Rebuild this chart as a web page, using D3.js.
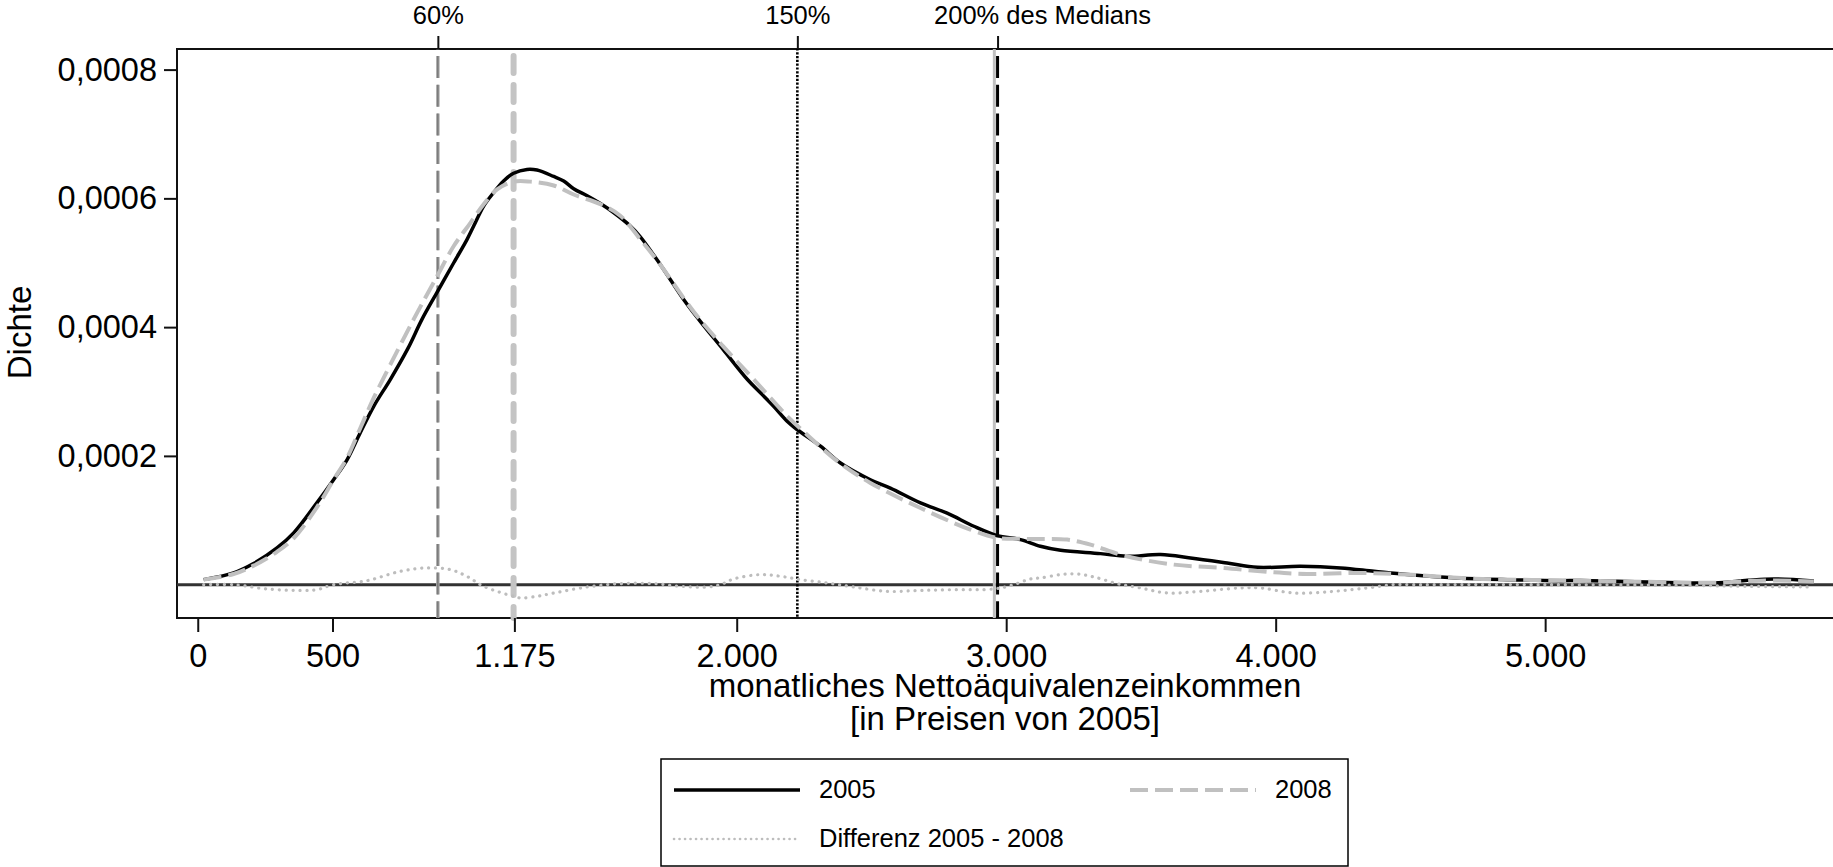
<!DOCTYPE html>
<html>
<head>
<meta charset="utf-8">
<script src="https://cdn.jsdelivr.net/npm/d3@7/dist/d3.min.js"></script>
<style>
  body { margin: 0; background: #fff; }
  svg text { font-family: "Liberation Sans", Arial, Helvetica, sans-serif; fill: #000; }
</style>
</head>
<body>
<div id="densitychart"></div>
<script>
// kernel density 2005 (income, density)
var inc2005 = [22, 133, 207, 294, 356, 442, 504, 554, 603, 653, 715, 780, 832, 888, 950, 999, 1024, 1061, 1098, 1135,
  1172, 1222, 1259, 1321, 1358, 1395, 1445, 1494, 1543, 1605, 1643, 1720, 1803, 1859, 1950, 2039, 2088, 2137, 2187, 2224,
  2311, 2385, 2496, 2570, 2682, 2781, 2880, 2967, 3053, 3127, 3202, 3350, 3449, 3573, 3684, 3820, 3932, 4092, 4241, 4365,
  4488, 4674, 4860, 5057, 5131, 5379, 5627, 5751, 5849, 5997];
var dens2005 = [0.0000078, 0.0000182, 0.0000327, 0.000057, 0.0000804, 0.000127, 0.000163, 0.000194, 0.000236, 0.000277,
  0.000319, 0.000367, 0.000412, 0.000454, 0.0005, 0.000536, 0.000557, 0.000588, 0.000609, 0.000627,
  0.000639, 0.000645, 0.000644, 0.000634, 0.000627, 0.000615, 0.000604, 0.000592, 0.000578, 0.000557,
  0.00054, 0.000495, 0.000443, 0.000412, 0.000365, 0.000319, 0.000298, 0.000277, 0.000254, 0.000241,
  0.000215, 0.000189, 0.000163, 0.00015, 0.000127, 0.000111, 0.0000907, 0.0000762, 0.00007, 0.0000596,
  0.0000533, 0.0000482, 0.000044, 0.0000467, 0.0000415, 0.0000337, 0.0000269, 0.0000285, 0.000026, 0.0000207,
  0.0000156, 0.0000104, 0.0000078, 0.0000062, 0.0000065, 0.0000042, 0.0000026, 0.0000067, 0.0000088, 0.0000057];

// kernel density 2008
var inc2008 = [22, 133, 207, 294, 356, 442, 504, 554, 603, 653, 715, 801, 888, 950, 1012, 1061, 1111, 1172, 1234, 1321,
  1395, 1494, 1568, 1643, 1720, 1803, 1859, 1950, 2063, 2187, 2261, 2373, 2496, 2682, 2867, 2967, 3053, 3127, 3226, 3313,
  3437, 3623, 3808, 3993, 4117, 4303, 4488, 4736, 5057, 5379, 5627, 5751, 5849, 5997];
var dens2008 = [0.0000078, 0.0000165, 0.0000295, 0.000051, 0.000072, 0.00012, 0.000163, 0.000197, 0.000243, 0.00029,
  0.000342, 0.000412, 0.000479, 0.000526, 0.000562, 0.000591, 0.000614, 0.000626, 0.000626, 0.00062,
  0.000606, 0.000591, 0.000573, 0.000536, 0.000495, 0.000445, 0.000414, 0.00037, 0.000319, 0.000262,
  0.000233, 0.000192, 0.000158, 0.000119, 0.0000855, 0.0000726, 0.0000711, 0.000071, 0.00007, 0.0000622,
  0.0000451, 0.0000311, 0.000026, 0.0000191, 0.0000166, 0.0000182, 0.0000156, 0.0000093, 0.0000067, 0.0000045,
  0.000003, 0.0000055, 0.0000065, 0.000005];

// difference of the two densities
var incDiff = [22, 133, 256, 380, 442, 504, 628, 752, 851, 937, 999, 1061, 1172, 1200, 1260, 1321, 1445, 1568, 1692, 1791,
  1890, 1940, 1989, 2088, 2162, 2236, 2336, 2434, 2558, 2682, 2806, 2954, 3028, 3090, 3127, 3202, 3264, 3325, 3412, 3498,
  3598, 3721, 3870, 3944, 4068, 4216, 4340, 4439, 4512, 5000, 5500, 5748, 5997];
var densDiff = [0, 0, -0.0000067, -0.0000089, -0.0000078, 0, 0.0000062, 0.0000207, 0.000026, 0.0000233,
  0.0000129, -0.0000026, -0.0000182, -0.0000207, -0.000018, -0.000013, -0.0000036, 0.0000016, 0.0000016, -0.0000026,
  -0.0000036, 0, 0.0000089, 0.0000156, 0.000013, 0.0000078, 0.0000026, -0.0000036, -0.0000104, -0.0000089,
  -0.0000078, -0.0000067, 0, 0.0000089, 0.0000104, 0.0000156, 0.0000166, 0.000012, 0.0000016, -0.0000051,
  -0.000013, -0.0000104, -0.0000051, -0.0000051, -0.000013, -0.0000104, -0.0000051, 0, 0, 0,
  -0.000001, -0.0000026, -0.0000036];

// reference values (median based)
var line60 = 891, lineMode = 1172, line150 = 2225, line200 = 2968, line200b = 2956;
var topTickValues = [891, 2225, 2968];
var topTickLabels = ["60%", "150%", "200% des Medians"];
var xTickValues = [0, 500, 1175, 2000, 3000, 4000, 5000];
var yTickValues = [0.0002, 0.0004, 0.0006, 0.0008];
var legendLabels = ["2005", "2008", "Differenz 2005 - 2008"];

// set the dimensions and margins of the graph
var margin = {top: 49, left: 177},
    width = 1660,
    height = 569;

var svg = d3.select("#densitychart")
  .append("svg")
    .attr("width", 1833)
    .attr("height", 867)
  .append("g")
    .attr("transform", "translate(" + margin.left + "," + margin.top + ")");

var de = d3.formatLocale({decimal: ",", thousands: ".", grouping: [3], currency: ["", " €"]});

var x = d3.scaleLinear().domain([-77, 6083]).range([0, width]);
var y = d3.scaleLinear().domain([-0.0000518, 0.000832]).range([height, 0]);

// frame (right side runs off the picture)
svg.append("path")
  .attr("d", "M" + (width + 5) + ",0H0V" + height + "H" + (width + 5))
  .attr("fill", "none")
  .attr("stroke", "#111")
  .attr("stroke-width", 2);

// zero line
svg.append("line")
  .attr("x1", 0).attr("x2", width)
  .attr("y1", y(0)).attr("y2", y(0))
  .attr("stroke", "#333")
  .attr("stroke-width", 3);

// vertical reference lines
function vline(v, color, w, dash, cap) {
  svg.append("line")
    .attr("x1", x(v)).attr("x2", x(v))
    .attr("y1", 0).attr("y2", height)
    .attr("stroke", color)
    .attr("stroke-width", w)
    .attr("stroke-dasharray", dash)
    .attr("stroke-dashoffset", -7)
    .attr("stroke-linecap", cap || "butt");
}
vline(line60, "#a8a8a8", 3.5, "22,6.7");
vline(line60, "#6e6e6e", 1.2, "22,6.7");
vline(lineMode, "#c4c4c4", 6, "17,12", "round");
vline(line150, "#000", 2.6, "2.2,1.6");
vline(line200b, "#c0c0c0", 3, null);
vline(line200, "#000", 3, "22,6.7");

var line = d3.line()
  .x(function (d) { return x(d[0]); })
  .y(function (d) { return y(d[1]); })
  .curve(d3.curveCatmullRom.alpha(0.5));

// 2005 solid black
svg.append("path")
  .datum(d3.zip(inc2005, dens2005))
  .attr("d", line)
  .attr("fill", "none")
  .attr("stroke", "#000")
  .attr("stroke-width", 3.5);

// 2008 light grey dashes
svg.append("path")
  .datum(d3.zip(inc2008, dens2008))
  .attr("d", line)
  .attr("fill", "none")
  .attr("stroke", "#c0c0c0")
  .attr("stroke-width", 4)
  .attr("stroke-dasharray", "18,7");

// difference dotted
svg.append("path")
  .datum(d3.zip(incDiff, densDiff))
  .attr("d", line)
  .attr("fill", "none")
  .attr("stroke", "#bdbdbd")
  .attr("stroke-width", 3.2)
  .attr("stroke-linecap", "round")
  .attr("stroke-dasharray", "0.1,6.8");

// Add X axis
var xAxis = svg.append("g")
  .attr("transform", "translate(0," + height + ")")
  .call(d3.axisBottom(x).tickValues(xTickValues).tickFormat(de.format(",d")).tickSize(14).tickPadding(12));
xAxis.select(".domain").remove();
xAxis.selectAll("line").attr("stroke", "#111").attr("stroke-width", 2);
xAxis.selectAll("text").attr("font-family", null).style("font-size", "32.5px");

// Add Y axis
var yAxis = svg.append("g")
  .call(d3.axisLeft(y).tickValues(yTickValues).tickFormat(de.format(",.4f")).tickSize(13).tickPadding(7));
yAxis.select(".domain").remove();
yAxis.selectAll("line").attr("stroke", "#111").attr("stroke-width", 2);
yAxis.selectAll("text").attr("font-family", null).style("font-size", "32.5px");

// top axis with median markers
var topAxis = svg.append("g")
  .call(d3.axisTop(x).tickValues(topTickValues)
    .tickFormat(function (d, i) { return topTickLabels[i]; })
    .tickSize(13).tickPadding(12));
topAxis.select(".domain").remove();
topAxis.selectAll("line").attr("stroke", "#111").attr("stroke-width", 2);
topAxis.selectAll("text").attr("font-family", null).style("font-size", "25.5px");
topAxis.selectAll("text").filter(function (d, i) { return i == 2; })
  .attr("text-anchor", "start")
  .attr("x", -64);

// axis titles
svg.append("text")
  .attr("transform", "translate(-146," + (height / 2 - 1) + ") rotate(-90)")
  .attr("text-anchor", "middle")
  .style("font-size", "33px")
  .text("Dichte");

svg.append("text")
  .attr("x", 828)
  .attr("y", 648)
  .attr("text-anchor", "middle")
  .style("font-size", "33px")
  .text("monatliches Nettoäquivalenzeinkommen");
svg.append("text")
  .attr("x", 828)
  .attr("y", 681)
  .attr("text-anchor", "middle")
  .style("font-size", "33px")
  .text("[in Preisen von 2005]");

// legend
var legend = d3.select("#densitychart svg").append("g");
legend.append("rect")
  .attr("x", 661).attr("y", 759)
  .attr("width", 687).attr("height", 107)
  .attr("fill", "none")
  .attr("stroke", "#000")
  .attr("stroke-width", 1.5);

var legendItems = [
  {x: 674, y: 790, color: "#000", w: 3.5, dash: null, cap: "butt"},
  {x: 1130, y: 790, color: "#c0c0c0", w: 4, dash: "18,7", cap: "butt"},
  {x: 674, y: 839, color: "#bdbdbd", w: 2.6, dash: "0.1,5.4", cap: "round"}
];
legendItems.forEach(function (d, i) {
  legend.append("line")
    .attr("x1", d.x).attr("x2", d.x + 126)
    .attr("y1", d.y).attr("y2", d.y)
    .attr("stroke", d.color)
    .attr("stroke-width", d.w)
    .attr("stroke-dasharray", d.dash)
    .attr("stroke-linecap", d.cap);
  legend.append("text")
    .attr("x", d.x + 145)
    .attr("y", d.y + 8)
    .style("font-size", "25.5px")
    .text(legendLabels[i]);
});
</script>
</body>
</html>
